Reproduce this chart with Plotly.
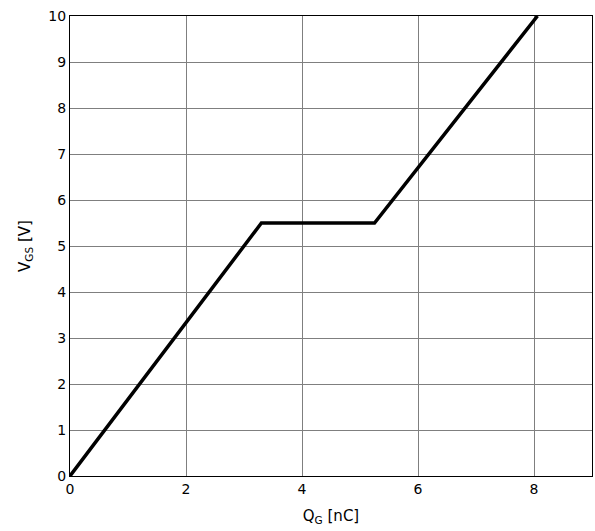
import plotly.graph_objects as go

qg = [0, 3.30, 5.25, 8.06]
vgs = [0, 5.5, 5.5, 10]
x_ticks = [0, 2, 4, 6, 8]
y_ticks = [0, 1, 2, 3, 4, 5, 6, 7, 8, 9, 10]

fig = go.Figure()
fig.add_trace(go.Scatter(x=qg, y=vgs, mode="lines",
                         line=dict(color="black", width=3.5), showlegend=False))

axis_common = dict(showgrid=True, gridcolor="#7f7f7f", gridwidth=1,
                   showline=True, linecolor="black", linewidth=1, mirror=True,
                   ticks="", zeroline=False, ticklabeloverflow="allow",
                   tickfont=dict(family="DejaVu Sans", size=14, color="black"))

fig.update_xaxes(range=[0, 9], tickvals=x_ticks, ticktext=[str(t) for t in x_ticks],
                 title=dict(text="Q<sub>G</sub> [nC]", font=dict(family="DejaVu Sans", size=15, color="black"), standoff=14),
                 **axis_common)
fig.update_yaxes(range=[0, 10], tickvals=y_ticks, ticktext=[str(t) for t in y_ticks],
                 title=dict(text="V<sub>GS</sub> [V]", font=dict(family="DejaVu Sans", size=15, color="black"), standoff=14),
                 **axis_common)

fig.update_layout(width=595, height=531, margin=dict(l=70, r=3, t=16, b=55),
                  plot_bgcolor="white", paper_bgcolor="white",
                  font=dict(family="DejaVu Sans", color="black"))
fig.write_html("out.html", config={"displayModeBar": False},
               post_script="document.body.style.margin='0';document.documentElement.style.overflow='hidden';")
